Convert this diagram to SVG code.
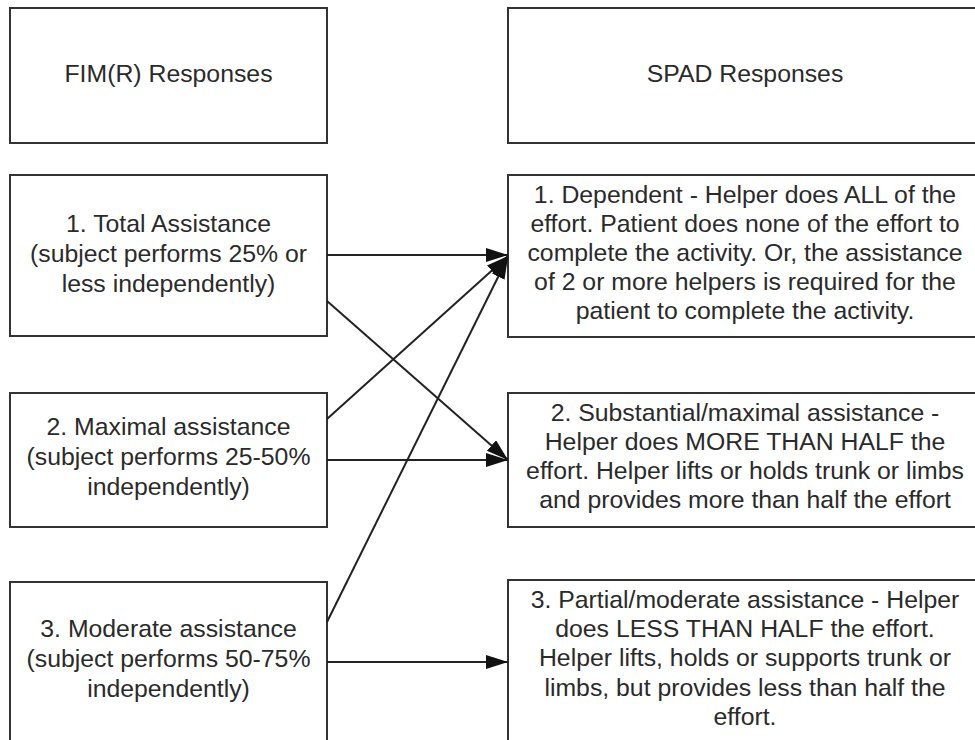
<svg xmlns="http://www.w3.org/2000/svg" width="975" height="740" viewBox="0 0 975 740">
<style>
.box{fill:#fff;stroke:#333;stroke-width:2}
.t{font-family:"Liberation Sans",Arial,sans-serif;font-size:24.8px;fill:#2a2a2a;text-anchor:middle}
.c{stroke:#222;stroke-width:2;fill:none}
</style>
<defs>
<marker id="ah" markerUnits="userSpaceOnUse" markerWidth="24" markerHeight="16" refX="22" refY="7" orient="auto">
<path d="M0,0 L22,7 L0,14 Z" fill="#111"/>
</marker>
</defs>
<rect width="975" height="740" fill="#fff"/>
<g id="fim-header">
<rect class="box" x="10" y="8" width="317" height="135"/>
<text class="t" x="168.5" y="82">FIM(R) Responses</text>
</g>
<g id="spad-header">
<rect class="box" x="508" y="8" width="477" height="135"/>
<text class="t" x="745" y="82">SPAD Responses</text>
</g>
<g id="fim1">
<rect class="box" x="10" y="175" width="317" height="161"/>
<text class="t" x="168.5" y="232">1. Total Assistance</text>
<text class="t" x="168.5" y="262">(subject performs 25% or</text>
<text class="t" x="168.5" y="292">less independently)</text>
</g>
<g id="fim2">
<rect class="box" x="10" y="393" width="317" height="134"/>
<text class="t" x="168.5" y="435">2. Maximal assistance</text>
<text class="t" x="168.5" y="465">(subject performs 25-50%</text>
<text class="t" x="168.5" y="495">independently)</text>
</g>
<g id="fim3">
<rect class="box" x="10" y="582" width="317" height="180"/>
<text class="t" x="168.5" y="637">3. Moderate assistance</text>
<text class="t" x="168.5" y="667">(subject performs 50-75%</text>
<text class="t" x="168.5" y="697">independently)</text>
</g>
<g id="spad1">
<rect class="box" x="508" y="175" width="477" height="162"/>
<text class="t" x="745" y="203">1. Dependent - Helper does ALL of the</text>
<text class="t" x="745" y="232">effort. Patient does none of the effort to</text>
<text class="t" x="745" y="261">complete the activity. Or, the assistance</text>
<text class="t" x="745" y="290">of 2 or more helpers is required for the</text>
<text class="t" x="745" y="319">patient to complete the activity.</text>
</g>
<g id="spad2">
<rect class="box" x="508" y="393" width="477" height="134"/>
<text class="t" x="745" y="421">2. Substantial/maximal assistance -</text>
<text class="t" x="745" y="450">Helper does MORE THAN HALF the</text>
<text class="t" x="745" y="479">effort. Helper lifts or holds trunk or limbs</text>
<text class="t" x="745" y="508">and provides more than half the effort</text>
</g>
<g id="spad3">
<rect class="box" x="508" y="580" width="477" height="182"/>
<text class="t" x="745" y="608">3. Partial/moderate assistance - Helper</text>
<text class="t" x="745" y="637">does LESS THAN HALF the effort.</text>
<text class="t" x="745" y="666">Helper lifts, holds or supports trunk or</text>
<text class="t" x="745" y="696">limbs, but provides less than half the</text>
<text class="t" x="745" y="725">effort.</text>
</g>
<g id="connectors">
<line class="c" x1="327" y1="255" x2="508" y2="255" marker-end="url(#ah)"/>
<line class="c" x1="327" y1="301" x2="508" y2="460" marker-end="url(#ah)"/>
<line class="c" x1="327" y1="419" x2="508" y2="256" marker-end="url(#ah)"/>
<line class="c" x1="327" y1="460" x2="508" y2="460" marker-end="url(#ah)"/>
<line class="c" x1="327" y1="622" x2="508" y2="257" marker-end="url(#ah)"/>
<line class="c" x1="327" y1="662" x2="508" y2="662" marker-end="url(#ah)"/>
</g>
</svg>
